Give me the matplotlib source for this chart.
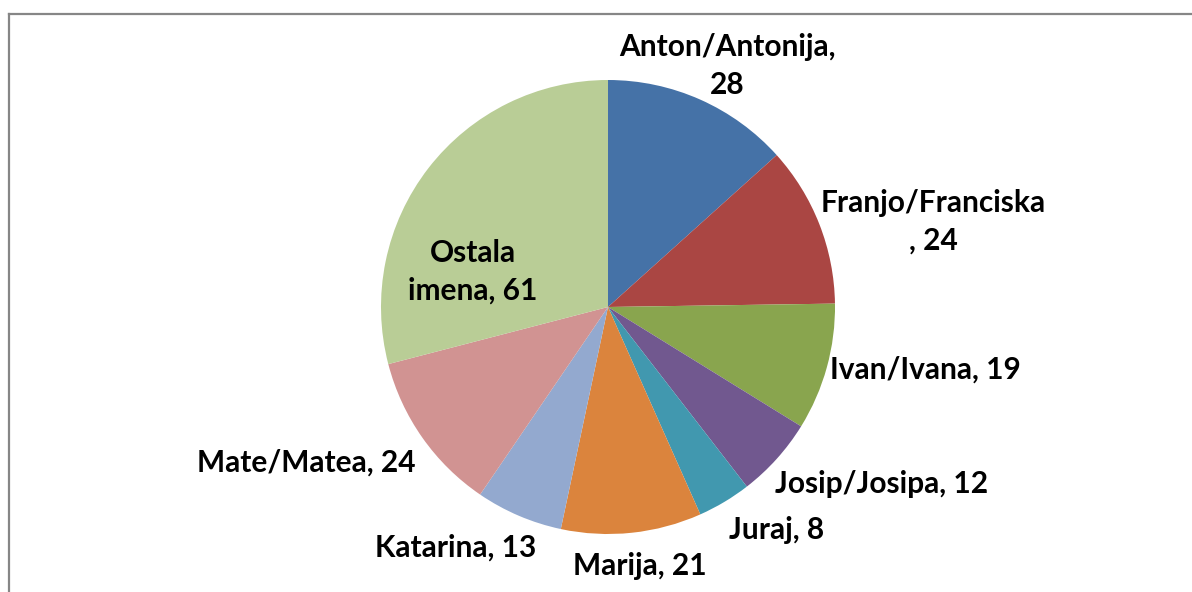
import matplotlib

matplotlib.use("Agg")

import matplotlib.pyplot as plt
from matplotlib.lines import Line2D

# ---------------------------------------------------------------------------
# Data
# ---------------------------------------------------------------------------

names = [
    "Anton/Antonija", "Franjo/Franciska", "Ivan/Ivana", "Josip/Josipa",
    "Juraj", "Marija", "Katarina", "Mate/Matea", "Ostala imena",
]
counts = [28, 24, 19, 12, 8, 21, 13, 24, 61]

colors = [
    "#4572A7", "#AA4643", "#89A54E", "#71588F", "#4198AF",
    "#DB843D", "#93A9CF", "#D19392", "#B9CD96",
]

# where the label text breaks, Excel style
label_breaks = {
    "Anton/Antonija": "{n},\n{v}",
    "Franjo/Franciska": "{n}\n, {v}",
    "Ostala imena": "Ostala\nimena, {v}",
}

# label centres in pixels (x from left, y from top)
label_pos = [
    (727, 66), (933, 222), (925, 370), (882, 484), (777, 530),
    (640, 566), (456, 548), (306, 463), (473, 272),
]

W, H = 1192, 592
CX, CY, R = 608, 307, 227

fig = plt.figure(figsize=(W / 100, H / 100), dpi=100)
ax = fig.add_axes([0, 0, 1, 1])

ax.pie(
    counts, colors=colors, startangle=90, counterclock=False,
    center=(CX, H - CY), radius=R, frame=True,
    wedgeprops=dict(linewidth=0),
)
ax.set_xlim(0, W)
ax.set_ylim(0, H)
ax.set_aspect("equal")
ax.axis("off")

for name, val, (x, y) in zip(names, counts, label_pos):
    tmpl = label_breaks.get(name, "{n}, {v}")
    txt = tmpl.format(n=name, v=val)
    ax.text(
        x, H - y, txt, ha="center", va="center", fontsize=21.5,
        fontweight="bold", family=["Lato", "DejaVu Sans"],
        linespacing=1.42, color="black",
    )

# chart border (only top and left visible in the crop)
fig.add_artist(Line2D([9 / W, 9 / W], [0, 1 - 14 / H], transform=fig.transFigure,
                      color="#868686", linewidth=1.6))
fig.add_artist(Line2D([9 / W, 1], [1 - 14 / H, 1 - 14 / H], transform=fig.transFigure,
                      color="#868686", linewidth=1.6))

fig.savefig("out.png", dpi=100, facecolor="white")
